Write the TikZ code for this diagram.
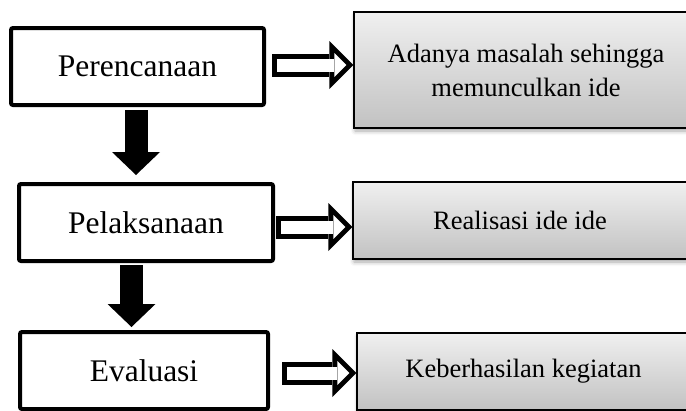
\documentclass[tikz,border=0pt]{standalone}
\usepackage{fontspec}
\setmainfont{Liberation Serif}
\usepackage{tikz}
\usetikzlibrary{arrows.meta, positioning, calc, shadows.blur}

\begin{document}
\begin{tikzpicture}[x=1pt, y=-1pt,
    stage/.style={draw, line width=4pt, rounded corners=2pt, fill=white,
        minimum width=253pt, minimum height=77pt, font=\fontsize{31.5}{36}\selectfont},
    result/.style={draw, line width=1.2pt, top color=black!6, bottom color=black!24,
        blur shadow={shadow xshift=1pt, shadow yshift=-3pt, shadow blur radius=4pt, shadow opacity=35},
        align=center, font=\fontsize{26.5}{34}\selectfont},
    down/.style={line width=23pt, -{Triangle[length=23pt, width=48pt, line width=0pt]}},
    hollow/.style={line width=23pt, -{Triangle[length=24pt, width=48pt, line width=0pt]},
        postaction={draw=white, line width=13pt, shorten <=5pt, shorten >=7.07pt,
            -{Triangle[length=11.93pt, width=23.86pt, line width=0pt]}}}]
				\useasboundingbox (0,0) rectangle (686,410);
				\clip (0,0) rectangle (686,410);
				
				% Stages
				\node[stage] (perencanaan) at (137.5, 66.5) {Perencanaan};
				\node[stage, minimum width=254pt] (pelaksanaan) at (146, 222.5) {Pelaksanaan};
				\node[stage, minimum width=248pt] (evaluasi) at (144, 370.5) {Evaluasi};
				
				% Results
				\node[result, minimum width=344pt, minimum height=116pt] (masalah) at (526, 70) {Adanya masalah sehingga\\memunculkan ide};
				\node[result, minimum width=334pt, minimum height=77pt] (realisasi) at (520, 220.5) {Realisasi ide ide};
				\node[result, minimum width=333pt, minimum height=77pt] (hasil) at (523.5, 371.5) {Keberhasilan kegiatan};
				
				\draw[down] ([xshift=-1.5pt, yshift=-3pt]perencanaan.south) -- ([xshift=-10pt, yshift=7pt]pelaksanaan.north);
				\draw[down] ([xshift=-14.5pt, yshift=-2pt]pelaksanaan.south) -- ([xshift=-12.5pt, yshift=3pt]evaluasi.north);
				
				\draw[hollow] ([xshift=6pt, yshift=1.5pt]perencanaan.east) -- ([yshift=1.5pt]perencanaan.east -| masalah.west);
				\draw[hollow] ([xshift=1pt, yshift=-4.5pt]pelaksanaan.east) -- ([yshift=-4.5pt]pelaksanaan.east -| realisasi.west);
				\draw[hollow] ([xshift=12pt, yshift=-2.5pt]evaluasi.east) -- ([yshift=-2.5pt]evaluasi.east -| hasil.west);
			\end{tikzpicture}
\end{document}
